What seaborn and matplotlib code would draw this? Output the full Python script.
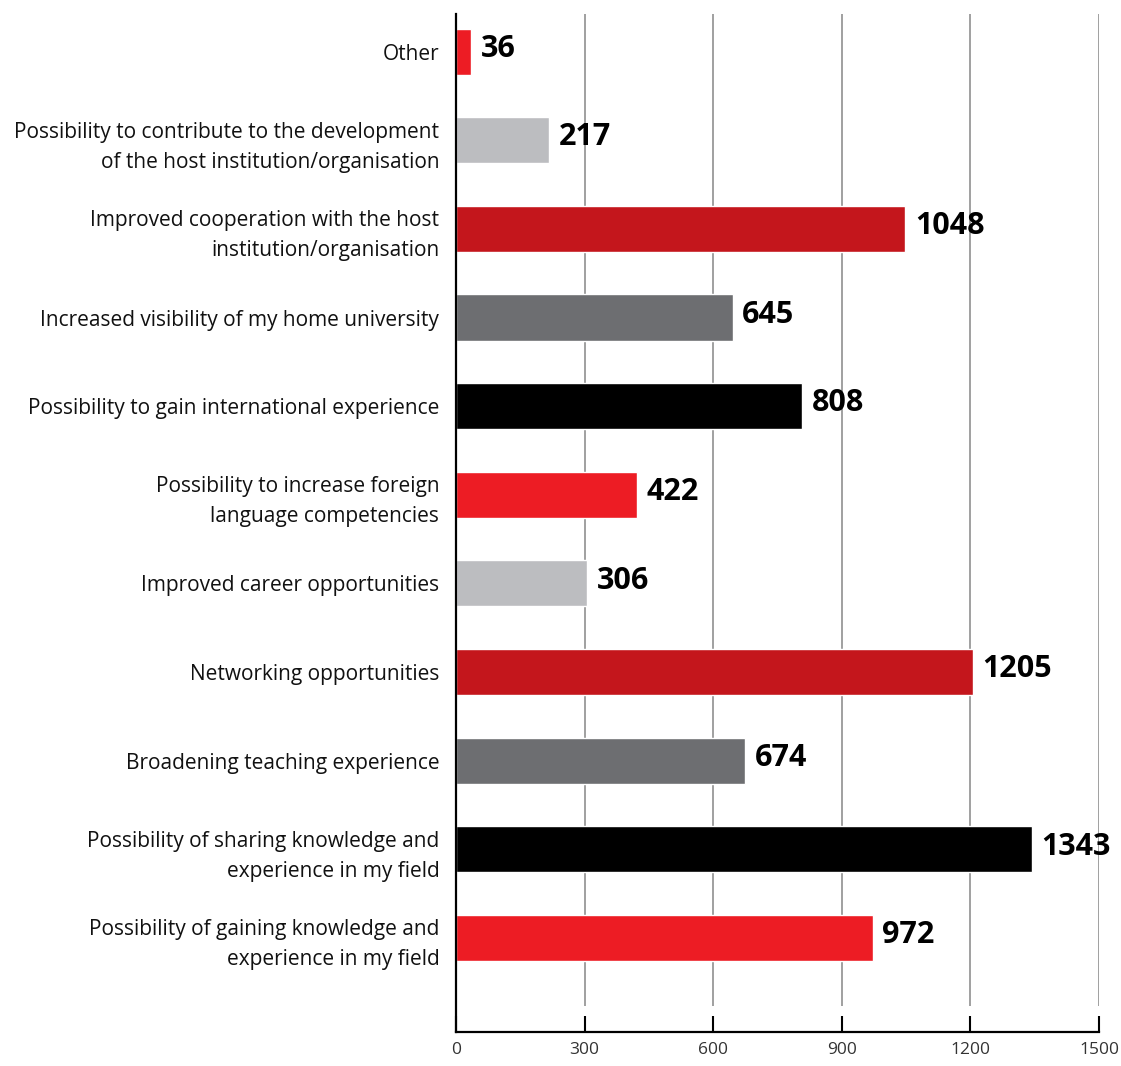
import matplotlib
matplotlib.use("Agg")
import matplotlib.pyplot as plt
import seaborn as sns
import pandas as pd

# categories top to bottom
categories = [
    "Other",
    "Possibility to contribute to the development\nof the host institution/organisation",
    "Improved cooperation with the host\ninstitution/organisation",
    "Increased visibility of my home university",
    "Possibility to gain international experience",
    "Possibility to increase foreign\nlanguage competencies",
    "Improved career opportunities",
    "Networking opportunities",
    "Broadening teaching experience",
    "Possibility of sharing knowledge and\nexperience in my field",
    "Possibility of gaining knowledge and\nexperience in my field",
]
counts = [36, 217, 1048, 645, 808, 422, 306, 1205, 674, 1343, 972]
bar_colors = ["#ED1C24", "#BCBDC0", "#C4161C", "#6D6E71", "#000000",
              "#ED1C24", "#BCBDC0", "#C4161C", "#6D6E71", "#000000", "#ED1C24"]
x_ticks = [0, 300, 600, 900, 1200, 1500]

df = pd.DataFrame({"category": categories, "count": counts})

sns.set_style("white")
plt.rcParams['font.family'] = ['Open Sans', 'DejaVu Sans']

fig = plt.figure(figsize=(11.21, 10.66), dpi=100)
ax = fig.add_axes([0.4068, 0.032, 0.5736, 0.9545])

sns.barplot(data=df, y="category", x="count", hue="category", palette=bar_colors,
            order=categories, hue_order=categories, orient="h", width=0.52,
            saturation=1, legend=False, ax=ax)

# grid lines stop just above the axis
ax.vlines(x_ticks[1:], 0.025, 1, transform=ax.get_xaxis_transform(),
          color="#999999", lw=1.3, zorder=0)

for i, v in enumerate(counts):
    ax.annotate(str(v), (v, i), xytext=(7, 2), textcoords="offset points",
                va="center", ha="left", fontsize=22, fontweight="bold", color="black")

ax.set_xlim(0, 1500)
ax.set_ylim(11.06, -0.42)
ax.set_xticks(x_ticks)
ax.set_xlabel("")
ax.set_ylabel("")
ax.tick_params(axis="x", bottom=True, direction="in", length=11.5, width=1.5, color="black",
               labelsize=12.5, labelcolor="#333333", pad=7)
ax.tick_params(axis="y", left=False, length=0, labelsize=15, labelcolor="#111111", pad=12)
for lbl in ax.get_yticklabels():
    lbl.set_horizontalalignment("right")
    lbl.set_multialignment("right")
    lbl.set_linespacing(1.55)

for s in ["top", "right"]:
    ax.spines[s].set_visible(False)
for s in ["left", "bottom"]:
    ax.spines[s].set_linewidth(1.6)
    ax.spines[s].set_color("black")

fig.savefig("out.png", dpi=100)
